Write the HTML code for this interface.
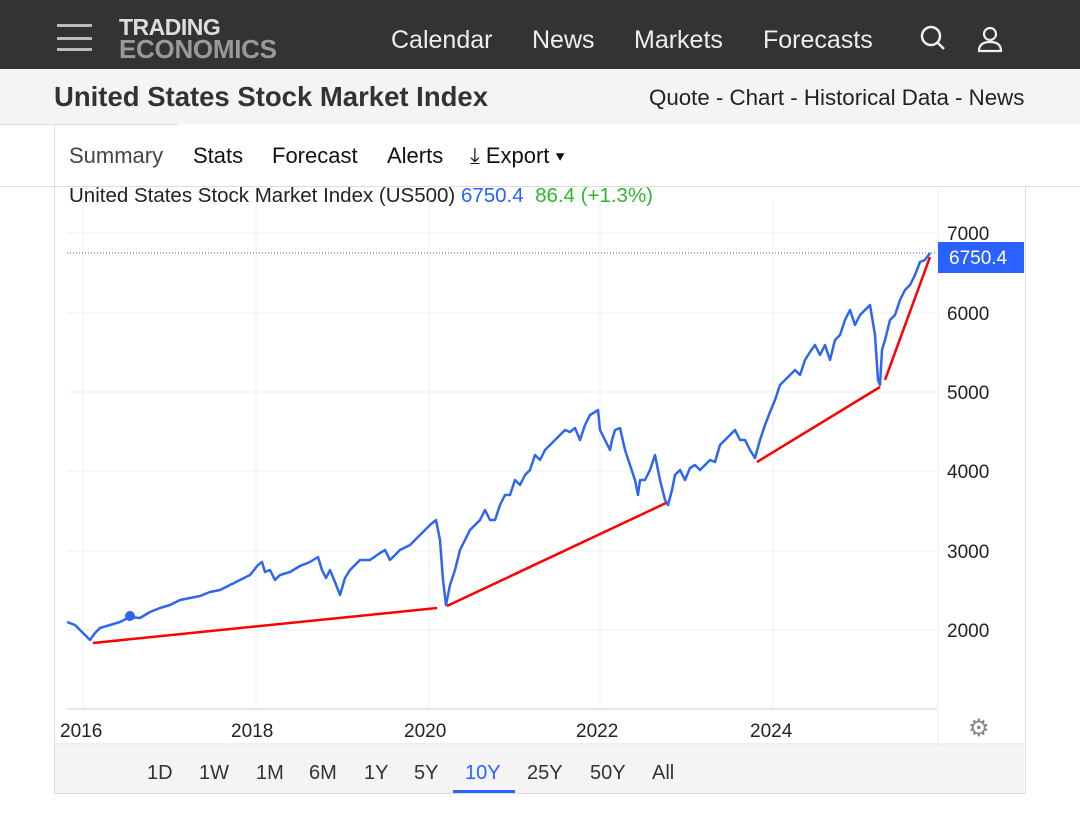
<!DOCTYPE html><html><head><style>
body{margin:0;width:1080px;height:821px;background:#fff;font-family:"Liberation Sans",sans-serif;position:relative;overflow:hidden}
.top{position:absolute;left:0;top:0;width:1080px;height:69px;background:#333}
.sub{position:absolute;left:0;top:69px;width:1080px;height:55px;background:#f4f4f4;border-bottom:1px solid #ddd}
.a{position:absolute;white-space:nowrap}
</style></head><body>
<div class="top"></div>
<div class="a" style="left:57px;top:24px;width:35px;height:3px;background:#bbb"></div>
<div class="a" style="left:57px;top:37px;width:35px;height:3px;background:#bbb"></div>
<div class="a" style="left:57px;top:48px;width:35px;height:3px;background:#bbb"></div>
<div class="a" style="left:119px;top:17px;font-weight:bold;font-size:23px;color:#ddd;line-height:20px;letter-spacing:-0.5px">TRADING</div>
<div class="a" style="left:119px;top:37px;font-weight:bold;font-size:26px;color:#999;line-height:24px;letter-spacing:-0.3px">ECONOMICS</div>
<div class="a" style="left:391px;top:26px;font-size:25px;color:#eee">Calendar</div>
<div class="a" style="left:532px;top:26px;font-size:25px;color:#eee">News</div>
<div class="a" style="left:634px;top:26px;font-size:25px;color:#eee">Markets</div>
<div class="a" style="left:763px;top:26px;font-size:25px;color:#eee">Forecasts</div>
<svg class="a" style="left:918px;top:24px" width="90" height="30"><circle cx="13" cy="12" r="9" stroke="#eee" stroke-width="2.5" fill="none"/><line x1="19" y1="18" x2="26" y2="25" stroke="#eee" stroke-width="2.5"/><circle cx="72" cy="10" r="6" stroke="#eee" stroke-width="2.2" fill="none"/><path d="M61 27 Q61 18 72 18 Q83 18 83 27 Z" stroke="#eee" stroke-width="2.2" fill="none"/></svg>
<div class="sub"></div>
<div class="a" style="left:54px;top:81px;font-size:27.5px;font-weight:bold;color:#333">United States Stock Market Index</div>
<div class="a" style="left:649px;top:85px;font-size:22.3px;color:#222">Quote - Chart - Historical Data - News</div>
<div class="a" style="left:54px;top:124px;width:970px;height:669px;border:1px solid #ddd;border-top:none"></div>
<div class="a" style="left:0;top:186px;width:1080px;height:1px;background:#ddd"></div>
<div class="a" style="left:178px;top:124px;width:1px;height:62px;background:#ddd"></div>
<div class="a" style="left:178px;top:124px;width:902px;height:62px;background:#fff;border-bottom:1px solid #ddd"></div>
<div class="a" style="left:69px;top:143px;font-size:22px;color:#444">Summary</div>
<div class="a" style="left:193px;top:143px;font-size:22px;color:#111">Stats</div>
<div class="a" style="left:272px;top:143px;font-size:22px;color:#111">Forecast</div>
<div class="a" style="left:387px;top:143px;font-size:22px;color:#111">Alerts</div>
<div class="a" style="left:470px;top:143px;font-size:22px;color:#111">⤓ Export ▾</div>
<div class="a" style="left:69px;top:184px;font-size:20.5px;color:#222">United States Stock Market Index (US500) <span style="color:#2962ff">6750.4</span> &nbsp;<span style="color:#2db82d">86.4 (+1.3%)</span></div>
<svg class="a" style="left:0;top:0" width="1080" height="821">
<g stroke="#eceff2" stroke-width="1">
<line x1="67" y1="233" x2="937" y2="233"/><line x1="67" y1="313" x2="937" y2="313"/><line x1="67" y1="392" x2="937" y2="392"/><line x1="67" y1="471" x2="937" y2="471"/><line x1="67" y1="551" x2="937" y2="551"/><line x1="67" y1="630" x2="937" y2="630"/>
<line x1="83" y1="200" x2="83" y2="708"/><line x1="256" y1="200" x2="256" y2="708"/><line x1="429" y1="200" x2="429" y2="708"/><line x1="600" y1="200" x2="600" y2="708"/><line x1="773" y1="200" x2="773" y2="708"/>
</g>
<line x1="67" y1="709" x2="937" y2="709" stroke="#e6e6e6" stroke-width="2"/>
<line x1="938" y1="190" x2="938" y2="745" stroke="#eee"/>
<line x1="55" y1="744" x2="1024" y2="744" stroke="#ddd"/>
<line x1="67" y1="253" x2="937" y2="253" stroke="#2962ff" stroke-dasharray="1,2"/>
<polyline fill="none" stroke="#2f66f0" stroke-width="2.5" stroke-linejoin="round" points="67,622 75,625 80,630 85,635 90,640 95,633 100,628 110,625 120,622 130,617 140,618 150,612 160,608 170,605 180,600 190,598 200,596 210,592 220,590 230,585 240,580 250,575 258,565 262,562 265,572 270,570 275,580 280,575 290,572 300,566 310,562 318,557 322,570 326,578 330,570 335,582 340,595 345,578 350,570 360,560 370,560 380,553 385,550 390,560 400,550 410,545 420,535 430,525 436,520 440,540 443,580 446,605 450,585 455,570 460,550 465,540 470,530 475,525 480,520 485,510 490,520 495,520 500,505 505,495 510,495 515,480 520,485 525,475 530,470 535,455 540,460 545,450 550,445 555,440 560,435 565,430 570,432 575,428 580,440 585,425 590,415 595,412 598,410 600,430 605,440 610,450 612,440 615,430 620,428 625,450 630,465 635,480 638,495 640,480 645,480 650,470 655,455 660,480 665,500 668,505 672,490 675,475 680,470 685,480 690,468 695,465 700,470 705,465 710,460 715,462 720,445 725,440 730,435 735,430 740,440 745,440 750,450 755,458 760,440 765,425 770,412 775,400 780,385 785,380 790,375 795,370 800,375 805,360 810,352 815,345 820,355 825,345 830,360 835,340 840,335 845,320 850,310 855,325 860,315 865,310 870,305 875,335 878,380 880,385 882,350 885,340 890,320 895,315 900,300 905,290 910,285 915,275 920,262 925,260 930,253"/>
<circle cx="130" cy="616" r="5" fill="#2f66f0"/>
<g stroke="#f00" stroke-width="2.5"><line x1="93" y1="643" x2="437" y2="608"/><line x1="447" y1="606" x2="666" y2="503"/><line x1="757" y1="462" x2="880" y2="387"/><line x1="885" y1="380" x2="930" y2="257"/></g>
<rect x="938" y="242" width="86" height="31" fill="#2962ff"/>
<text x="949" y="264" font-size="19" fill="#fff" font-family="Liberation Sans">6750.4</text>
<g font-size="19" fill="#222" font-family="Liberation Sans">
<text x="947" y="240">7000</text><text x="947" y="320">6000</text><text x="947" y="399">5000</text><text x="947" y="478">4000</text><text x="947" y="558">3000</text><text x="947" y="637">2000</text>
<text x="60" y="737">2016</text><text x="231" y="737">2018</text><text x="404" y="737">2020</text><text x="576" y="737">2022</text><text x="750" y="737">2024</text>
</g>
<text x="968" y="736" font-size="24" fill="#888">⚙</text>
</svg>
<div class="a" style="left:55px;top:745px;width:969px;height:48px;background:#f4f4f4"></div>
<div class="a" style="left:147px;top:762px;font-size:20px;color:#333">1D</div>
<div class="a" style="left:199px;top:762px;font-size:20px;color:#333">1W</div>
<div class="a" style="left:256px;top:762px;font-size:20px;color:#333">1M</div>
<div class="a" style="left:309px;top:762px;font-size:20px;color:#333">6M</div>
<div class="a" style="left:364px;top:762px;font-size:20px;color:#333">1Y</div>
<div class="a" style="left:414px;top:762px;font-size:20px;color:#333">5Y</div>
<div class="a" style="left:465px;top:762px;font-size:20px;color:#2962ff">10Y</div>
<div class="a" style="left:453px;top:790px;width:62px;height:3px;background:#2962ff"></div>
<div class="a" style="left:527px;top:762px;font-size:20px;color:#333">25Y</div>
<div class="a" style="left:590px;top:762px;font-size:20px;color:#333">50Y</div>
<div class="a" style="left:652px;top:762px;font-size:20px;color:#333">All</div>
</body></html>
